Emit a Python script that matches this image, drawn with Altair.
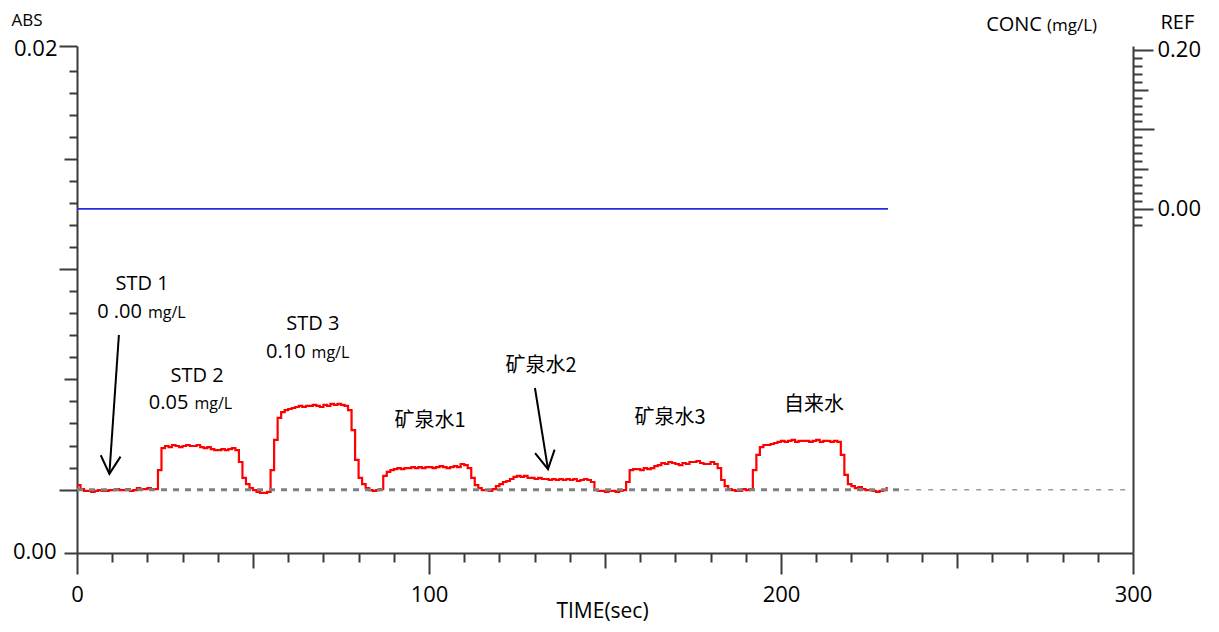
import altair as alt
import pandas as pd

# ---------------- data ----------------
TIME_SEC = list(range(0, 231))
ABSORBANCE = [
    0.00268, 0.00252, 0.00245, 0.00245, 0.00241, 0.00245, 0.00248, 0.00245, 0.00245, 0.00248,
    0.00248, 0.00252, 0.00248, 0.00248, 0.00252, 0.00245, 0.00248, 0.00256, 0.00252, 0.00252,
    0.00256, 0.00252, 0.00252, 0.00327, 0.00414, 0.00422, 0.00418, 0.00426, 0.00422, 0.00418,
    0.00422, 0.00426, 0.00422, 0.00422, 0.00426, 0.00418, 0.00414, 0.00418, 0.00410, 0.00406,
    0.00406, 0.00410, 0.00406, 0.00410, 0.00414, 0.00406, 0.00359, 0.00296, 0.00272, 0.00256,
    0.00248, 0.00241, 0.00237, 0.00237, 0.00241, 0.00327, 0.00446, 0.00533, 0.00556, 0.00564,
    0.00568, 0.00572, 0.00576, 0.00580, 0.00576, 0.00580, 0.00580, 0.00584, 0.00580, 0.00576,
    0.00584, 0.00580, 0.00588, 0.00584, 0.00588, 0.00584, 0.00580, 0.00564, 0.00485, 0.00367,
    0.00296, 0.00272, 0.00256, 0.00248, 0.00245, 0.00248, 0.00252, 0.00304, 0.00320, 0.00327,
    0.00331, 0.00335, 0.00331, 0.00335, 0.00335, 0.00339, 0.00335, 0.00339, 0.00335, 0.00339,
    0.00339, 0.00335, 0.00339, 0.00343, 0.00339, 0.00335, 0.00339, 0.00343, 0.00339, 0.00351,
    0.00347, 0.00335, 0.00296, 0.00268, 0.00256, 0.00248, 0.00248, 0.00245, 0.00252, 0.00264,
    0.00272, 0.00280, 0.00284, 0.00292, 0.00300, 0.00304, 0.00300, 0.00304, 0.00296, 0.00296,
    0.00292, 0.00296, 0.00292, 0.00292, 0.00288, 0.00292, 0.00288, 0.00292, 0.00288, 0.00292,
    0.00288, 0.00292, 0.00284, 0.00288, 0.00292, 0.00288, 0.00280, 0.00248, 0.00245, 0.00245,
    0.00241, 0.00245, 0.00245, 0.00241, 0.00245, 0.00248, 0.00280, 0.00327, 0.00331, 0.00331,
    0.00327, 0.00335, 0.00331, 0.00335, 0.00343, 0.00347, 0.00355, 0.00351, 0.00359, 0.00355,
    0.00351, 0.00347, 0.00355, 0.00351, 0.00359, 0.00359, 0.00363, 0.00355, 0.00351, 0.00351,
    0.00359, 0.00351, 0.00335, 0.00288, 0.00264, 0.00252, 0.00248, 0.00245, 0.00245, 0.00252,
    0.00248, 0.00252, 0.00327, 0.00387, 0.00418, 0.00426, 0.00426, 0.00430, 0.00434, 0.00438,
    0.00442, 0.00438, 0.00442, 0.00446, 0.00438, 0.00442, 0.00442, 0.00442, 0.00438, 0.00442,
    0.00446, 0.00438, 0.00442, 0.00442, 0.00438, 0.00442, 0.00438, 0.00387, 0.00308, 0.00272,
    0.00264, 0.00256, 0.00260, 0.00252, 0.00248, 0.00248, 0.00245, 0.00241, 0.00245, 0.00248,
    0.00260,
]

BASELINE_ABS = 0.0025
BASELINE_THICK_T = [0, 235]
BASELINE_THIN_T = [235, 300]

REF_LEVEL = 0.00
REF_T = [0, 230.4]

# axis ticks
X_MAJOR = [0, 100, 200, 300]
X_MID = [50, 150, 250]
X_MINOR = [10, 20, 30, 40, 60, 70, 80, 90, 110, 120, 130, 140, 160, 170, 180, 190,
           210, 220, 230, 240, 260, 270, 280, 290]

ABS_TOP = [0.02]
ABS_BOTTOM = [0.0]
ABS_LONG = [0.0025, 0.0112]
ABS_MID = [0.00685, 0.01555]
ABS_MINOR = [0.00337, 0.00424, 0.00511, 0.00598, 0.00772, 0.00859, 0.00946, 0.01033,
             0.01207, 0.01294, 0.01381, 0.01468, 0.01642, 0.01729, 0.01816, 0.01903]

REF_LABELLED = [0.0, 0.2]
REF_LONG = [0.1]
REF_MID = [0.05, 0.15]
REF_MINOR = [-0.02, -0.01, 0.01, 0.02, 0.03, 0.04, 0.06, 0.07, 0.08, 0.09,
             0.11, 0.12, 0.13, 0.14, 0.16, 0.17, 0.18, 0.19]

# annotations (data coordinates: time, ABS)
STD_NAMES = ["STD 1", "STD 2", "STD 3"]
STD_NAME_T = [18.5, 34.1, 67.0]
STD_NAME_V = [0.01061, 0.00698, 0.00903]
STD_CONC = ["0 .00", "0.05", "0.10"]
STD_UNIT = ["mg/L", "mg/L", "mg/L"]
STD_CONC_T = [19.3, 32.5, 65.8]
STD_CONC_V = [0.00927, 0.00568, 0.00769]

SAMPLE_NAMES = ["矿泉水1", "矿泉水2", "矿泉水3", "自来水"]
SAMPLE_T = [100.3, 131.8, 168.5, 209.4]
SAMPLE_V = [0.00521, 0.00738, 0.00533, 0.00584]

CONC_TITLE = ["CONC"]
CONC_UNIT = ["(mg/L)"]
CONC_T = [274.7]
CONC_V = [0.02059]

ARROW_T0 = [11.9, 130.1]
ARROW_V0 = [0.0086, 0.00651]
ARROW_T1 = [9.2, 133.8]
ARROW_V1 = [0.00312, 0.00331]

# ---------------- styles ----------------
FONT = "Open Sans"
CJK = "Noto Sans CJK SC"
AXIS_COLOR = "#3a3a3a"
RED = "#ff0000"
BLUE = "#2a2ae0"
GRAY = "#808080"
ARROW_HEAD_ANGLES = [4, 350]
HEAD_PATH = "M -0.55 -1 L 0 0 L 0.55 -1"

x_scale = alt.Scale(domain=[0, 300], zero=False, nice=False)
abs_scale = alt.Scale(domain=[0, 0.02], zero=False, nice=False)
ref_scale = alt.Scale(domain=[-0.433, 0.205], zero=False, nice=False)

AXIS_STYLE = dict(
    grid=False, domainColor=AXIS_COLOR, domainWidth=2, tickColor=AXIS_COLOR, tickWidth=2,
    labelFont=FONT, labelFontSize=22, labelColor="black", labelFlush=False, labelOverlap=False,
    titleFont=FONT, titleFontSize=20, titleFontWeight="normal", titleColor="black",
)


def axis_layer(channel, values, scale, orient, tick_size, labels=False, domain=False,
               title=None, **extra):
    kw = dict(AXIS_STYLE)
    kw.update(values=values, orient=orient, tickSize=tick_size, labels=labels,
              domain=domain, title=title)
    kw.update(extra)
    df = pd.DataFrame({"v": values})
    enc = alt.X if channel == "x" else alt.Y
    return alt.Chart(df).mark_point(opacity=0).encode(
        **{channel: enc("v:Q", scale=scale, axis=alt.Axis(**kw))}
    )


def X(field):
    return alt.X(field, type="quantitative", scale=x_scale, axis=None)


def YA(field):
    return alt.Y(field, type="quantitative", scale=abs_scale, axis=None)


layers = []

# axes: x
layers.append(axis_layer("x", X_MAJOR, x_scale, "bottom", 21, labels=True, domain=True,
                         title="TIME(sec)", labelPadding=10, format="d", titleFontSize=21,
                         titleX=525, titleY=58, titleBaseline="middle", titleAlign="center"))
layers.append(axis_layer("x", X_MID, x_scale, "bottom", 15))
layers.append(axis_layer("x", X_MINOR, x_scale, "bottom", 9))

# axes: left ABS
layers.append(axis_layer("y", ABS_TOP, abs_scale, "left", 18, labels=True, domain=True,
                         format=".2f", labelPadding=2, labelOffset=2, title="ABS", titleAngle=0,
                         titleFontSize=17, titleX=-66, titleY=-25.5,
                         titleAlign="left", titleBaseline="middle"))
layers.append(axis_layer("y", ABS_BOTTOM, abs_scale, "left", 13, labels=True,
                         format=".2f", labelPadding=8, labelOffset=-2))
layers.append(axis_layer("y", ABS_LONG, abs_scale, "left", 18))
layers.append(axis_layer("y", ABS_MID, abs_scale, "left", 13))
layers.append(axis_layer("y", ABS_MINOR, abs_scale, "left", 8))

# axes: right REF
layers.append(axis_layer("y", REF_LABELLED, ref_scale, "right", 20, labels=True, domain=True,
                         format=".2f", labelPadding=4, title="REF", titleAngle=0,
                         titleX=27, titleY=-24, titleAlign="left", titleBaseline="middle"))
layers.append(axis_layer("y", REF_LONG, ref_scale, "right", 21))
layers.append(axis_layer("y", REF_MID, ref_scale, "right", 15))
layers.append(axis_layer("y", REF_MINOR, ref_scale, "right", 9))

# blue reference line
ref_df = pd.DataFrame({"t0": [REF_T[0]], "t1": [REF_T[1]], "r": [REF_LEVEL]})
layers.append(alt.Chart(ref_df).mark_rule(color=BLUE, strokeWidth=1.8).encode(
    x=X("t0"), x2="t1", y=alt.Y("r:Q", scale=ref_scale, axis=None)))

# red signal
trace_df = pd.DataFrame({"t": TIME_SEC, "a": ABSORBANCE})
layers.append(alt.Chart(trace_df).mark_line(color=RED, strokeWidth=2.2,
                                            interpolate="step-after").encode(
    x=X("t"), y=YA("a")))

# dotted baseline
thick_df = pd.DataFrame({"t0": [BASELINE_THICK_T[0]], "t1": [BASELINE_THICK_T[1]], "a": [BASELINE_ABS]})
thin_df = pd.DataFrame({"t0": [BASELINE_THIN_T[0]], "t1": [BASELINE_THIN_T[1]], "a": [BASELINE_ABS]})
layers.append(alt.Chart(thick_df).mark_rule(color=GRAY, strokeWidth=3, strokeDash=[6, 6]).encode(
    x=X("t0"), x2="t1", y=YA("a")))
layers.append(alt.Chart(thin_df).mark_rule(color="#9a9a9a", strokeWidth=1.5, strokeDash=[5, 7]).encode(
    x=X("t0"), x2="t1", y=YA("a")))

# annotations
std_df = pd.DataFrame({"t": STD_NAME_T, "a": STD_NAME_V, "label": STD_NAMES})
layers.append(alt.Chart(std_df).mark_text(font=FONT, fontSize=20, color="black",
                                          align="center", baseline="middle").encode(
    x=X("t"), y=YA("a"), text="label:N"))

conc_df = pd.DataFrame({"t": STD_CONC_T, "a": STD_CONC_V, "num": STD_CONC, "unit": STD_UNIT})
layers.append(alt.Chart(conc_df).mark_text(font=FONT, fontSize=20, color="black",
                                           align="right", baseline="alphabetic", dx=-3).encode(
    x=X("t"), y=YA("a"), text="num:N"))
layers.append(alt.Chart(conc_df).mark_text(font=FONT, fontSize=16, color="black",
                                           align="left", baseline="alphabetic", dx=3).encode(
    x=X("t"), y=YA("a"), text="unit:N"))

sample_df = pd.DataFrame({"t": SAMPLE_T, "a": SAMPLE_V, "label": SAMPLE_NAMES})
layers.append(alt.Chart(sample_df).mark_text(font=CJK, fontSize=20, color="black",
                                             align="center", baseline="middle").encode(
    x=X("t"), y=YA("a"), text="label:N"))

ctitle_df = pd.DataFrame({"t": CONC_T, "a": CONC_V, "name": CONC_TITLE, "unit": CONC_UNIT})
layers.append(alt.Chart(ctitle_df).mark_text(font=FONT, fontSize=20, color="black",
                                             align="right", baseline="alphabetic", dx=-2).encode(
    x=X("t"), y=YA("a"), text="name:N"))
layers.append(alt.Chart(ctitle_df).mark_text(font=FONT, fontSize=17, color="black",
                                             align="left", baseline="alphabetic", dx=3).encode(
    x=X("t"), y=YA("a"), text="unit:N"))

# arrows
arrow_df = pd.DataFrame({"t0": ARROW_T0, "a0": ARROW_V0, "t1": ARROW_T1, "a1": ARROW_V1})
layers.append(alt.Chart(arrow_df).mark_rule(color="black", strokeWidth=2).encode(
    x=X("t0"), x2="t1", y=YA("a0"), y2="a1"))
for i, ang in enumerate(ARROW_HEAD_ANGLES):
    layers.append(alt.Chart(arrow_df.iloc[[i]]).mark_point(
        shape=HEAD_PATH, filled=False, color="black", strokeWidth=2, size=1296,
        angle=ang, opacity=1).encode(x=X("t1"), y=YA("a1")))

chart = (
    alt.layer(*layers)
    .resolve_scale(y="independent")
    .resolve_axis(x="independent", y="independent")
    .properties(
        width=1056, height=507,
        autosize=alt.AutoSizeParams(type="none"),
        padding={"left": 69, "top": 38, "right": 70, "bottom": 70},
        background="white",
    )
    .configure_view(strokeWidth=0)
)

chart.save("out.html", embed_options={"renderer": "svg", "actions": False})
